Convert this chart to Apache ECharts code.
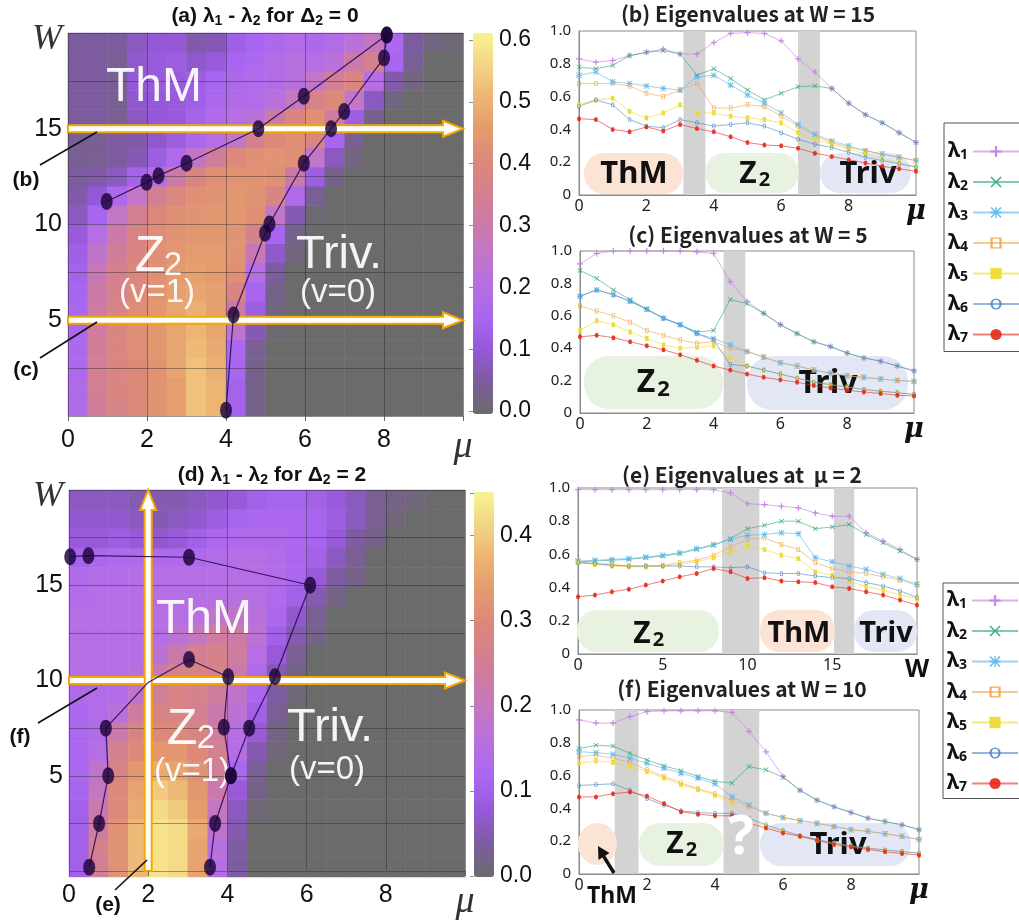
<!DOCTYPE html>
<html><head><meta charset="utf-8">
<script src="https://cdn.jsdelivr.net/npm/echarts@6/dist/echarts.min.js"></script>
<style>html,body{margin:0;padding:0;background:#fff}#c{width:1019px;height:921px}</style>
</head><body><div id="c"></div>
<script>
// ---------------- DATA ----------------
// heatmap cell centres
const HM_MU = [0.25,0.75,1.25,1.75,2.25,2.75,3.25,3.75,4.25,4.75,5.25,5.75,6.25,6.75,7.25,7.75,8.25,8.75,9.25,9.75];
const HM_W  = [0.5,1.5,2.5,3.5,4.5,5.5,6.5,7.5,8.5,9.5,10.5,11.5,12.5,13.5,14.5,15.5,16.5,17.5,18.5,19.5];
// (a) lambda1 - lambda2 for Delta2 = 0, in hundredths; rows bottom (W=0.5) to top (W=19.5)
const A_ROWS = [
 [18,33,37,40,43,46,52,50,14,3,0,0,0,0,0,0,0,0,0,0],
 [18,34,38,40,43,46,52,50,14,3,0,0,0,0,0,0,0,0,0,0],
 [17,34,38,40,43,47,52,49,15,3,0,0,0,0,0,0,0,0,0,0],
 [17,33,38,41,44,47,51,48,16,4,0,0,0,0,0,0,0,0,0,0],
 [16,32,38,41,44,47,50,47,24,7,1,0,0,0,0,0,0,0,0,0],
 [16,31,37,41,44,47,49,46,30,12,2,0,0,0,0,0,0,0,0,0],
 [15,30,36,40,43,46,47,46,38,15,3,0,0,0,0,0,0,0,0,0],
 [14,28,35,39,42,45,46,45,42,20,5,0,0,0,0,0,0,0,0,0],
 [13,24,33,38,42,44,45,45,43,28,9,2,0,0,0,0,0,0,0,0],
 [11,20,30,37,41,43,44,44,43,36,15,3,0,0,0,0,0,0,0,0],
 [8,15,25,34,39,42,43,44,44,42,25,7,1,0,0,0,0,0,0,0],
 [6,10,17,25,34,39,42,43,44,43,38,18,4,0,0,0,0,0,0,0],
 [5,6,8,14,20,30,38,42,43,43,42,30,12,3,0,0,0,0,0,0],
 [4,4,5,7,12,18,25,33,40,42,43,42,25,8,2,0,0,0,0,0],
 [4,4,5,6,9,12,16,20,25,35,40,42,38,15,4,0,0,0,0,0],
 [5,5,4,8,10,11,14,18,20,22,30,38,42,32,12,3,0,0,0,0],
 [5,5,4,9,10,11,13,16,18,19,21,27,37,40,25,8,2,0,0,0],
 [5,5,4,10,11,11,12,15,17,18,19,21,25,34,38,20,6,2,0,0],
 [5,5,4,9,11,12,9,11,15,17,19,21,20,22,30,35,15,4,0,0],
 [5,5,5,8,10,10,6,7,13,15,17,19,17,19,22,26,16,5,2,1]
];
// (d) lambda1 - lambda2 for Delta2 = 2, in hundredths
const D_ROWS = [
 [10,25,32,38,43,42,35,15,4,0,0,0,0,0,0,0,0,0,0,0],
 [10,26,32,38,43,42,35,16,4,0,0,0,0,0,0,0,0,0,0,0],
 [10,24,32,38,43,42,36,18,5,0,0,0,0,0,0,0,0,0,0,0],
 [10,22,30,36,42,40,34,20,6,1,0,0,0,0,0,0,0,0,0,0],
 [11,20,30,35,40,38,33,22,8,2,0,0,0,0,0,0,0,0,0,0],
 [12,18,28,33,36,35,32,25,12,3,0,0,0,0,0,0,0,0,0,0],
 [12,15,26,30,33,33,30,26,15,5,1,0,0,0,0,0,0,0,0,0],
 [12,14,22,28,30,30,28,24,15,8,2,0,0,0,0,0,0,0,0,0],
 [12,14,16,24,28,28,26,22,17,10,3,0,0,0,0,0,0,0,0,0],
 [13,14,14,18,25,28,27,24,18,12,4,1,0,0,0,0,0,0,0,0],
 [15,15,15,16,22,27,28,27,22,13,5,2,0,0,0,0,0,0,0,0],
 [15,15,15,15,17,22,26,27,24,15,8,3,0,0,0,0,0,0,0,0],
 [15,15,15,15,15,17,20,24,23,17,10,5,2,0,0,0,0,0,0,0],
 [15,15,15,15,15,15,16,18,18,16,12,7,3,0,0,0,0,0,0,0],
 [14,15,15,15,15,15,15,15,16,15,13,10,5,2,0,0,0,0,0,0],
 [13,14,14,15,15,15,15,15,15,15,14,12,8,4,2,0,0,0,0,0],
 [11,12,13,13,13,13,13,14,15,15,14,12,10,6,3,0,0,0,0,0],
 [8,8,9,8,7,8,10,12,13,13,13,12,11,8,4,2,0,0,0,0],
 [7,7,7,6,5,6,7,9,11,12,12,12,11,9,6,3,1,0,0,0],
 [6,6,6,5,5,5,6,7,8,10,11,11,10,8,6,3,2,1,0,0]
];
// phase boundaries [mu, W]
const A_LINE1 = [[0.98,11.2],[1.99,12.2],[2.29,12.55],[3.0,13.2],[4.82,15.0],[5.97,16.7],[8.07,19.9]];
const A_LINE2 = [[4.0,0.3],[4.19,5.27],[4.99,9.54],[5.1,10.03],[5.97,13.2],[6.66,15.0],[6.99,15.9],[8.0,18.7],[8.07,19.9]];
const D_LINE1 = [[0.03,16.5],[0.49,16.55],[3.03,16.47],[6.09,15.0],[5.2,10.2],[4.55,7.5],[4.09,5.0],[3.69,2.5],[3.56,0.2]];
const D_LINE2 = [[0.51,0.2],[0.76,2.5],[0.99,5.0],[0.93,7.5],[2.0,9.9],[3.03,11.1],[4.02,10.2],[3.91,7.55],[4.09,5.0]];

// eigenvalue panels
const MU21 = [0,0.5,1,1.5,2,2.5,3,3.5,4,4.5,5,5.5,6,6.5,7,7.5,8,8.5,9,9.5,10];
const W21  = [0,1,2,3,4,5,6,7,8,9,10,11,12,13,14,15,16,17,18,19,20];
// (b) W = 15
const B1 = [0.83,0.81,0.82,0.85,0.87,0.89,0.86,0.86,0.93,0.985,0.99,0.985,0.94,0.83,0.75,0.65,0.56,0.49,0.44,0.38,0.32];
const B2 = [0.78,0.77,0.79,0.85,0.87,0.88,0.86,0.73,0.77,0.71,0.64,0.58,0.62,0.66,0.665,0.65,0.56,0.49,0.44,0.38,0.32];
const B3 = [0.73,0.75,0.69,0.68,0.665,0.65,0.64,0.72,0.73,0.67,0.61,0.56,0.50,0.43,0.37,0.33,0.30,0.27,0.25,0.23,0.21];
const B4 = [0.68,0.68,0.68,0.665,0.62,0.6,0.64,0.68,0.53,0.53,0.55,0.54,0.48,0.42,0.36,0.32,0.29,0.27,0.25,0.23,0.21];
const B5 = [0.55,0.58,0.59,0.51,0.47,0.5,0.55,0.5,0.5,0.48,0.47,0.46,0.44,0.38,0.34,0.31,0.28,0.25,0.22,0.2,0.17];
const B6 = [0.54,0.58,0.55,0.46,0.42,0.41,0.46,0.44,0.42,0.43,0.44,0.42,0.38,0.34,0.31,0.29,0.26,0.23,0.21,0.19,0.17];
const B7 = [0.465,0.46,0.40,0.385,0.415,0.39,0.43,0.405,0.385,0.355,0.32,0.305,0.30,0.285,0.255,0.235,0.215,0.195,0.175,0.16,0.145];
const B_BANDS = [[3.1,3.75],[6.5,7.15]];
// (c) W = 5
const C1 = [0.92,0.985,1.0,1.0,1.0,1.0,1.0,0.995,0.985,0.81,0.69,0.615,0.545,0.49,0.44,0.41,0.37,0.34,0.32,0.29,0.26];
const C2 = [0.88,0.83,0.76,0.70,0.64,0.585,0.545,0.50,0.51,0.70,0.675,0.615,0.545,0.49,0.44,0.41,0.37,0.34,0.32,0.29,0.26];
const C3 = [0.72,0.76,0.73,0.69,0.64,0.585,0.545,0.49,0.46,0.42,0.38,0.345,0.31,0.29,0.265,0.245,0.23,0.22,0.21,0.2,0.195];
const C4 = [0.66,0.63,0.60,0.56,0.51,0.48,0.45,0.43,0.44,0.40,0.38,0.345,0.31,0.29,0.265,0.245,0.23,0.22,0.21,0.2,0.195];
const C5 = [0.51,0.57,0.545,0.50,0.46,0.42,0.40,0.405,0.415,0.34,0.29,0.265,0.24,0.215,0.19,0.175,0.16,0.145,0.135,0.125,0.115];
const C6 = [0.72,0.76,0.73,0.69,0.64,0.585,0.545,0.49,0.45,0.30,0.29,0.265,0.24,0.215,0.19,0.175,0.16,0.145,0.135,0.125,0.115];
const C7 = [0.47,0.48,0.465,0.44,0.415,0.39,0.36,0.325,0.29,0.265,0.24,0.22,0.205,0.19,0.17,0.155,0.14,0.13,0.12,0.11,0.105];
const C_BANDS = [[4.3,4.95]];
// (e) mu = 2
const E1 = [0.99,0.99,0.99,0.99,0.99,0.99,0.99,0.99,0.99,0.97,0.905,0.9,0.89,0.88,0.85,0.83,0.83,0.73,0.68,0.63,0.57];
const E2 = [0.555,0.56,0.565,0.57,0.58,0.59,0.605,0.63,0.655,0.695,0.755,0.775,0.80,0.80,0.755,0.765,0.78,0.72,0.67,0.62,0.57];
const E3 = [0.56,0.565,0.57,0.575,0.585,0.595,0.61,0.635,0.66,0.69,0.715,0.72,0.73,0.725,0.58,0.555,0.53,0.51,0.48,0.455,0.42];
const E4 = [0.555,0.545,0.54,0.53,0.53,0.535,0.55,0.565,0.595,0.645,0.69,0.70,0.66,0.63,0.55,0.515,0.495,0.485,0.465,0.445,0.415];
const E5 = [0.55,0.54,0.53,0.525,0.525,0.53,0.54,0.555,0.58,0.615,0.65,0.63,0.595,0.575,0.495,0.475,0.44,0.405,0.385,0.355,0.335];
const E6 = [0.55,0.545,0.535,0.53,0.53,0.53,0.53,0.525,0.525,0.52,0.525,0.49,0.485,0.485,0.47,0.46,0.455,0.43,0.41,0.38,0.34];
const E7 = [0.345,0.355,0.375,0.39,0.415,0.44,0.465,0.485,0.515,0.495,0.455,0.46,0.44,0.435,0.43,0.405,0.395,0.375,0.355,0.325,0.295];
const E_BANDS = [[8.5,10.7],[15.1,16.3]];
// (f) W = 10
const F1 = [0.94,0.92,0.92,0.96,0.99,0.995,0.995,0.995,0.995,0.985,0.87,0.745,0.595,0.51,0.45,0.41,0.375,0.34,0.32,0.30,0.27];
const F2 = [0.765,0.785,0.78,0.735,0.695,0.66,0.63,0.595,0.565,0.555,0.655,0.635,0.59,0.51,0.45,0.41,0.375,0.34,0.32,0.30,0.27];
const F3 = [0.745,0.74,0.73,0.705,0.675,0.645,0.615,0.585,0.55,0.47,0.42,0.37,0.345,0.325,0.31,0.29,0.27,0.26,0.245,0.23,0.21];
const F4 = [0.715,0.725,0.705,0.68,0.635,0.595,0.555,0.52,0.49,0.45,0.41,0.37,0.345,0.325,0.31,0.29,0.27,0.26,0.245,0.23,0.21];
const F5 = [0.675,0.69,0.68,0.655,0.625,0.585,0.545,0.515,0.48,0.43,0.33,0.29,0.26,0.23,0.205,0.185,0.17,0.155,0.145,0.135,0.125];
const F6 = [0.54,0.545,0.55,0.51,0.46,0.42,0.385,0.375,0.37,0.37,0.34,0.30,0.265,0.235,0.21,0.19,0.172,0.158,0.147,0.137,0.127];
const F7 = [0.47,0.47,0.49,0.50,0.475,0.43,0.38,0.365,0.355,0.355,0.31,0.28,0.25,0.23,0.205,0.18,0.165,0.15,0.135,0.125,0.115];
const F_BANDS = [[1.05,1.75],[4.25,5.3]];

const NAMES = ['λ₁','λ₂','λ₃','λ₄','λ₅','λ₆','λ₇'];
const NAME_SUB = {'λ₁':'1','λ₂':'2','λ₃':'3','λ₄':'4','λ₅':'5','λ₆':'6','λ₇':'7'};

// ---------------- STYLE ----------------
const COLORS = ['#c47ce6','#2ea77a','#5ab6ef','#f0a548','#ecd92a','#4a86c8','#e8281a'];
const PLUS = 'path://M4,0H6V4H10V6H6V10H4V6H0V4H4Z';
const CROSS = 'path://M1,0L5,4L9,0L10,1L6,5L10,9L9,10L5,6L1,10L0,9L4,5L0,1Z';
const STAR = 'path://M4.4,0H5.6V4.4H10V5.6H5.6V10H4.4V5.6H0V4.4H4.4Z M1,0L5,4L9,0L10,1L6,5L10,9L9,10L5,6L1,10L0,9L4,5L0,1Z';
const HRECT = 'path://M0,0H6V10H0Z M1.2,1.2V8.8H4.8V1.2Z';
const FRECT = 'path://M0,0H6V10H0Z';
const HELL = 'path://M3,0A3,5 0 1 1 3,10A3,5 0 1 1 3,0Z M3,1.3A1.8,3.7 0 1 0 3,8.7A1.8,3.7 0 1 0 3,1.3Z';
const FELL = 'path://M3,0A3,5 0 1 1 3,10A3,5 0 1 1 3,0Z';
const SYMS = [PLUS, CROSS, STAR, HRECT, FRECT, HELL, FELL];
const SIZES = [[6,6],[5,5],[6,6],[3.5,5],[3.5,5],[3.5,5],[4,5]];
const CMAP = ['#6b6b6b','#7c5c9e','#9558d6','#a866f0','#b56ee4','#c176c6','#cb7aa8','#d4808e','#dc897a','#e49b6e','#ecb574','#f3d585','#f9f391'];

const chart = echarts.init(document.getElementById('c'), null, {renderer:'canvas'});

const grids = [
  {left:68, top:33, width:395, height:383},   // 0 heatmap a
  {left:68, top:33, width:395, height:383},   // 1 overlay a
  {left:473, top:40, width:20, height:371},   // 2 colorbar labels a
  {left:69, top:490, width:396, height:387},  // 3 heatmap d
  {left:69, top:490, width:396, height:387},  // 4 overlay d
  {left:474, top:493, width:20, height:383},  // 5 colorbar labels d
  {left:579, top:31, width:337, height:164},  // 6 b
  {left:580, top:251, width:334, height:162}, // 7 c
  {left:578, top:488, width:339, height:166}, // 8 e
  {left:579, top:710, width:340, height:164}  // 9 f
];
grids.forEach((g,i)=>{ g.containLabel=false; if(i>=6){ g.show=true; g.borderColor='#8a8a8a'; g.borderWidth=1; g.backgroundColor='transparent'; } });

const xAxes = [], yAxes = [];
const hmX = gi => ({gridIndex:gi, type:'category', data:HM_MU, show:false});
const hmY = gi => ({gridIndex:gi, type:'category', data:HM_W, show:false});
const gridLine = {show:true, lineStyle:{color:'rgba(35,35,35,0.42)', width:1}};
const ovX = gi => ({gridIndex:gi, type:'value', min:0, max:10, interval:2, z:3,
  axisLine:{show:false}, axisTick:{show:true, length:5, lineStyle:{color:'#666'}},
  splitLine:gridLine,
  axisLabel:{fontSize:25, color:'#111', fontFamily:'Liberation Sans', margin:12,
    formatter: v => v===10 ? '{mu|μ}' : String(v),
    rich:{mu:{fontFamily:'Liberation Serif', fontStyle:'italic', fontSize:38, color:'#333'}}}});
const ovY = gi => ({gridIndex:gi, type:'value', min:0, max:20, interval:5, z:3,
  axisLine:{show:false}, axisTick:{show:false},
  splitLine:gridLine, minorTick:{show:false, splitNumber:2}, minorSplitLine:gridLine,
  axisLabel:{fontSize:25, color:'#111', fontFamily:'Liberation Sans', margin:6,
    formatter: v => v===20 ? '{w|W}' : (v===0 ? '' : String(v)),
    rich:{w:{fontFamily:'Liberation Serif', fontStyle:'italic', fontSize:36, color:'#333', padding:[14,0,0,0]}}}});
const cbX = gi => ({gridIndex:gi, type:'value', show:false, min:0, max:1});
const cbY = (gi,max) => ({gridIndex:gi, type:'value', min:0, max:max, interval:0.1, position:'right',
  axisLine:{show:false}, axisTick:{show:true, inside:true, length:4, lineStyle:{color:'rgba(60,60,60,0.6)'}}, splitLine:{show:false},
  showMaxLabel: max===0.6,
  axisLabel:{fontSize:23, color:'#111', fontFamily:'Liberation Sans', margin:6,
    formatter: v => Math.abs(v*10-Math.round(v*10))<1e-6 ? v.toFixed(1) : ''}});
const egX = (gi, max, interval, endLabel) => ({gridIndex:gi, type:'value', min:0, max:max, interval:interval,
  axisLine:{show:true, lineStyle:{color:'#8a8a8a'}}, axisTick:{show:false}, splitLine:{show:false},
  axisLabel:{fontSize:16, color:'#222', fontFamily:'Noto Sans', margin:3,
    formatter: v => v===max ? '{e|'+endLabel+'}' : String(v),
    rich:{e:{fontSize: endLabel==='W'?25:27, fontWeight:'bold', fontStyle: endLabel==='W'?'normal':'italic',
      fontFamily: endLabel==='W'?'Noto Sans':'DejaVu Serif', color:'#111'}}}});
const egY = gi => ({gridIndex:gi, type:'value', min:0, max:1, interval:0.2,
  axisLine:{show:true, lineStyle:{color:'#8a8a8a'}}, axisTick:{show:false}, splitLine:{show:false},
  axisLabel:{fontSize:15, color:'#222', fontFamily:'Noto Sans', margin:8,
    formatter: v => v===0 ? '0' : v.toFixed(1)}});

xAxes.push(hmX(0)); yAxes.push(hmY(0));
xAxes.push(ovX(1)); yAxes.push(ovY(1));
xAxes.push(cbX(2)); yAxes.push(cbY(2,0.6));
xAxes.push(hmX(3)); yAxes.push(hmY(3));
xAxes.push(ovX(4)); yAxes.push(ovY(4));
xAxes.push(cbX(5)); yAxes.push(cbY(5,0.45));
xAxes.push(egX(6,10,2,'μ')); yAxes.push(egY(6));
xAxes.push(egX(7,10,2,'μ')); yAxes.push(egY(7));
xAxes.push(egX(8,20,5,'W')); yAxes.push(egY(8));
xAxes.push(egX(9,10,2,'μ')); yAxes.push(egY(9));

const series = [];
const hmData = rows => { const out=[]; rows.forEach((row,r)=>row.forEach((v,c)=>out.push([c,r,v]))); return out; };
series.push({type:'heatmap', xAxisIndex:0, yAxisIndex:0, data:hmData(A_ROWS), z:2, silent:true, progressive:0});
const idxA = series.length-1;
series.push({type:'heatmap', xAxisIndex:3, yAxisIndex:3, data:hmData(D_ROWS), z:2, silent:true, progressive:0});
const idxD = series.length-1;

function boundary(gi, pts){
  series.push({type:'line', xAxisIndex:gi, yAxisIndex:gi, z:4, silent:true,
    data: pts.map(p => (p[0]===2.0 && p[1]===9.9) ? {value:p, symbol:'none'} : p),
    symbol:'circle', symbolSize:[12,17],
    itemStyle:{color:'rgba(28,4,58,0.82)'},
    lineStyle:{color:'rgba(40,10,85,0.9)', width:1.2}});
}
boundary(1, A_LINE1); boundary(1, A_LINE2);
boundary(4, D_LINE1); boundary(4, D_LINE2);

function eig(gi, xs, arrs, bands){
  arrs.forEach((a,k)=>{
    const s = {type:'line', name:NAMES[k], xAxisIndex:gi, yAxisIndex:gi, silent:true,
      data: xs.map((x,i)=>[x,a[i]]), symbol:SYMS[k], symbolSize:SIZES[k], symbolKeepAspect:false,
      lineStyle:{color:COLORS[k], width:1, opacity:0.6}, itemStyle:{color:COLORS[k], opacity:0.9}};
    if(k===0){ s.markArea = {silent:true, itemStyle:{color:'#d3d3d3', opacity:1},
      data: bands.map(b=>[{xAxis:b[0]},{xAxis:b[1]}])}; }
    series.push(s);
  });
}
eig(6, MU21, [B1,B2,B3,B4,B5,B6,B7], B_BANDS);
eig(7, MU21, [C1,C2,C3,C4,C5,C6,C7], C_BANDS);
eig(8, W21,  [E1,E2,E3,E4,E5,E6,E7], E_BANDS);
eig(9, MU21, [F1,F2,F3,F4,F5,F6,F7], F_BANDS);

const legendBase = {orient:'vertical', itemGap:9, itemWidth:46, itemHeight:14, align:'right',
  borderColor:'#555', borderWidth:1, backgroundColor:'#fff', selectedMode:false, data:NAMES,
  formatter: n => '{l|λ}{s|' + NAME_SUB[n] + '}',
  textStyle:{fontSize:20, fontWeight:'bold', color:'#111', fontFamily:'Noto Sans',
    rich:{l:{fontSize:21, fontWeight:'bold', fontFamily:'Noto Sans', color:'#111', lineHeight:22},
          s:{fontSize:14, fontWeight:'bold', fontFamily:'Noto Sans', color:'#111', lineHeight:14, verticalAlign:'bottom'}}}};

const option = {
  animation:false,
  backgroundColor:'#fff',
  grid: grids, xAxis: xAxes, yAxis: yAxes,
  visualMap:[
    {type:'continuous', seriesIndex:idxA, min:0, max:60, calculable:false, left:473, top:33, itemWidth:20, itemHeight:381, padding:0, inRange:{color:CMAP}, text:null, hoverLink:false},
    {type:'continuous', seriesIndex:idxD, min:0, max:45, calculable:false, left:474, top:492, itemWidth:20, itemHeight:385, padding:0, inRange:{color:CMAP}, text:null, hoverLink:false}
  ],
  legend:[
    Object.assign({}, legendBase, {left:944, top:123, padding:[18,40,6,4]}),
    Object.assign({}, legendBase, {left:943, top:583, padding:[7,40,4,4]})
  ],
  series: series
};
chart.setOption(option);

// ---------------- ANNOTATIONS ----------------
const P = (g, p) => chart.convertToPixel({gridIndex:g}, p);
const G = [];
const txt = (x,y,text,size,opts) => G.push(Object.assign({type:'text', x:x, y:y, z:(opts&&opts.z)||3, silent:true,
  style:Object.assign({text:text, fontSize:size, fontFamily:'Liberation Sans', fill:'#111', align:'center', verticalAlign:'middle'}, (opts&&opts.style)||{})}));
function hArrow(g, w){
  const a = P(g,[0,w]), b = P(g,[10,w]); const y=a[1], x0=a[0], x1=b[0], h=3.5, hl=20, hh=8;
  G.push({type:'polygon', z:3, silent:true, shape:{points:[[x0,y-h],[x1-hl,y-h],[x1-hl,y-hh],[x1,y],[x1-hl,y+hh],[x1-hl,y+h],[x0,y+h]]},
    style:{fill:'#ffffff', stroke:'#f3a800', lineWidth:2}});
}
function vArrow(g, mu){
  const a = P(g,[mu,0]), b = P(g,[mu,20]); const x=a[0], y0=a[1], y1=b[1], h=3.5, hl=20, hh=8;
  G.push({type:'polygon', z:3, silent:true, shape:{points:[[x-h,y0],[x-h,y1+hl],[x-hh,y1+hl],[x,y1],[x+hh,y1+hl],[x+h,y1+hl],[x+h,y0]]},
    style:{fill:'#ffffff', stroke:'#f3a800', lineWidth:2}});
}
hArrow(1,15); hArrow(1,5);
hArrow(4,10); vArrow(4,2);

// titles (rich text for subscripts)
const TRICH = {
  n:{fontSize:21, fontWeight:'bold', fontFamily:'Liberation Sans', fill:'#111', color:'#111', lineHeight:24},
  s:{fontSize:14, fontWeight:'bold', fontFamily:'Liberation Sans', fill:'#111', color:'#111', lineHeight:14, verticalAlign:'bottom'}
};
const TB = {fontWeight:'bold', fontFamily:'Liberation Sans', rich:TRICH};
txt(265,16,'{n|(a) λ}{s|1}{n| - λ}{s|2}{n| for Δ}{s|2}{n| = 0}',21,{style:TB, z:10});
txt(272,475,'{n|(d) λ}{s|1}{n| - λ}{s|2}{n| for Δ}{s|2}{n| = 2}',21,{style:TB, z:10});
const TE = {fontWeight:'bold', fontFamily:'Noto Sans CJK JP', fill:'#222'};
txt(748,14,'(b) Eigenvalues at W = 15',21,{style:TE, z:10});
txt(748,235,'(c) Eigenvalues at W = 5',21,{style:TE, z:10});
txt(742,475,'(e) Eigenvalues at  μ = 2',21,{style:TE, z:10});
txt(742,689,'(f) Eigenvalues at W = 10',21,{style:TE, z:10});

// heatmap phase labels
const WH = {fill:'rgba(255,255,255,0.93)', fontFamily:'Liberation Sans'};
txt(154,88,'ThM',48,{style:WH});
txt(150,257,'Z',50,{style:WH}); txt(173,266,'2',33,{style:WH});
txt(157,293,'(v=1)',33,{style:WH});
txt(339,255,'Triv.',47,{style:WH});
txt(338,293,'(v=0)',33,{style:WH});
txt(204,620,'ThM',48,{style:WH});
txt(182,730,'Z',50,{style:WH}); txt(206,739,'2',33,{style:WH});
txt(192,772,'(v=1)',33,{style:WH});
txt(330,728,'Triv.',47,{style:WH});
txt(327,770,'(v=0)',33,{style:WH});

// callouts
const callout = (x1,y1,x2,y2,lx,ly,t) => {
  G.push({type:'line', z:10, silent:true, shape:{x1:x1,y1:y1,x2:x2,y2:y2}, style:{stroke:'#111', lineWidth:1.6}});
  txt(lx,ly,t,21,{style:{fontWeight:'bold'}, z:10});
};
callout(40,165,97,132,26,180,'(b)');
callout(40,358,97,322,26,370,'(c)');
callout(38,723,97,688,20,737,'(f)');
callout(115,890,147,860,108,905,'(e)');

// eigenvalue phase boxes
const ThC='#fbe3d5', Z2C='#e8f2e1', TrC='#e3e7f5';
const box = (x,y,w,h,r,c) => G.push({type:'rect', z:1, silent:true, shape:{x:x,y:y,width:w,height:h,r:r}, style:{fill:c}});
const BT = {fontWeight:'bold', fontFamily:'Noto Sans', fill:'#111'};
const z2 = (x,y,s) => { txt(x,y,'Z',s,{style:BT, z:1}); txt(x+16*s/29,y+6*s/29,'2',Math.round(s*0.68),{style:BT, z:1}); };
// (b)
box(584,153,99,41,20,ThC); box(705,153,94,40,20,Z2C); box(820,153,91,40,20,TrC);
txt(634,174,'ThM',31,{style:BT, z:1}); z2(748,174,30); txt(868,174,'Triv',31,{style:BT, z:1});
// (c)
box(584,356,139,53,25,Z2C); box(747,356,161,54,25,TrC);
z2(646,383,32); txt(828,384,'Triv',32,{style:BT, z:1});
// (e)
box(577,610,142,42,20,Z2C); box(760,610,75,42,20,ThC); box(854,610,63,42,20,TrC);
z2(642,634,30); txt(799,634,'ThM',29,{style:BT, z:1}); txt(886,634,'Triv',29,{style:BT, z:1});
// (f)
G.push({type:'ellipse', z:1, silent:true, shape:{cx:597.5, cy:844, rx:19.5, ry:21}, style:{fill:ThC}});
box(639,823,85,43,21,Z2C); box(760,823,151,43,21,TrC);
z2(675,844,30); txt(838,845,'Triv',31,{style:BT, z:1});
txt(741,839,'?',54,{style:{fontWeight:'bold', fontFamily:'Noto Sans', fill:'#ffffff'}, z:5});
// black arrow to ThM
G.push({type:'line', z:10, silent:true, shape:{x1:614,y1:873,x2:603.7,y2:856.4}, style:{stroke:'#111', lineWidth:3.5}});
G.push({type:'polygon', z:10, silent:true, shape:{points:[[598,846],[609.5,853],[598.5,860]]}, style:{fill:'#111'}});
txt(612,896,'ThM',23,{style:{fontWeight:'bold', fontFamily:'Noto Sans'}, z:10});

chart.setOption({graphic:{elements:G}});
</script></body></html>
